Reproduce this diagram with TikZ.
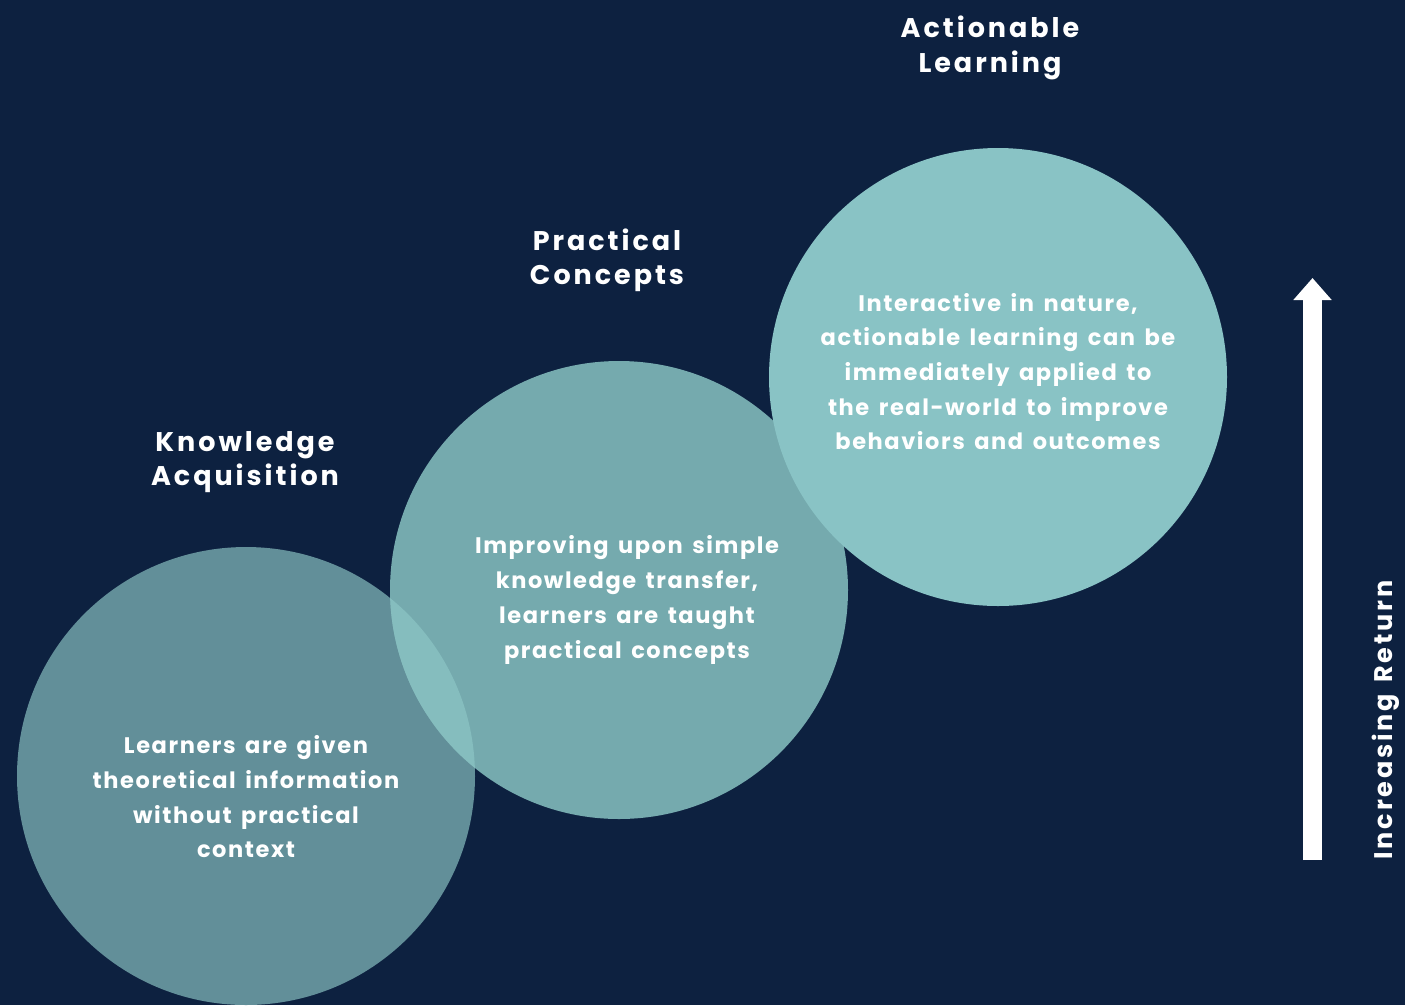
\documentclass[tikz,border=0pt]{standalone}
\usepackage{fontspec}
\setmainfont{Poppins}[UprightFont=* Bold]
\newfontfamily\headfont{Poppins}[UprightFont=* Bold,LetterSpace=11,WordSpace=1.4,Ligatures=CommonOff]
\newfontfamily\bodyfont{Poppins}[UprightFont=* Bold,LetterSpace=7,WordSpace=1.5,Ligatures=CommonOff]
\usetikzlibrary{arrows.meta}
\definecolor{bg}{HTML}{0D2140}
\definecolor{cone}{HTML}{628F99}
\definecolor{ctwo}{HTML}{75AAAE}
\definecolor{cthree}{HTML}{89C3C5}
\definecolor{lens}{HTML}{85BDBE}
\tikzset{
  disc/.style={circle,minimum size=458pt,inner sep=0pt,draw=none},
  headtxt/.style={text=white,align=center,font=\headfont\fontsize{27}{34.5}\selectfont,inner sep=0pt},
  bodytxt/.style={text=white,align=center,font=\bodyfont\fontsize{22.5}{34.7}\selectfont,inner sep=0pt},
}
\begin{document}
\begin{tikzpicture}[x=1pt,y=-1pt]
\fill[bg] (0,0) rectangle (1405,1005);
\useasboundingbox (0,0) rectangle (1405,1005);
\node[disc,fill=cone] (c1) at (246,776) {};
\node[disc,fill=ctwo] (c2) at (619,590) {};
\begin{scope}
\clip (246,776) circle (229);
\fill[lens] (619,590) circle (229);
\end{scope}
\node[disc,fill=cthree] (c3) at (998,377) {};
\node[headtxt] (h1) at (245,462) {Knowledge\\Acquisition};
\node[headtxt] (h2) at (607,260.5) {Practical\\Concepts};
\node[headtxt] (h3) at (990,48) {Actionable\\Learning};
\node[bodytxt] (t1) at (246,797) {Learners are given\\theoretical information\\without practical\\context};
\node[bodytxt] (t2) at (627,600) {Improving upon simple\\knowledge transfer,\\learners are taught\\practical concepts};
\node[bodytxt] (t3) at (998,371.5) {Interactive in nature,\\actionable learning can be\\immediately applied to\\the real-world to improve\\behaviors and outcomes};
\node[headtxt,rotate=90,font=\headfont\fontsize{25.5}{30}\selectfont] (ret) at (1386,720) {Increasing Return};
\coordinate (abot) at (1312.5,860);
\coordinate (atop) at (1312.5,278);
\draw[white,line width=19pt,-{Triangle[width=37pt,length=22pt]}] (abot) -- (atop);
\end{tikzpicture}
\end{document}
